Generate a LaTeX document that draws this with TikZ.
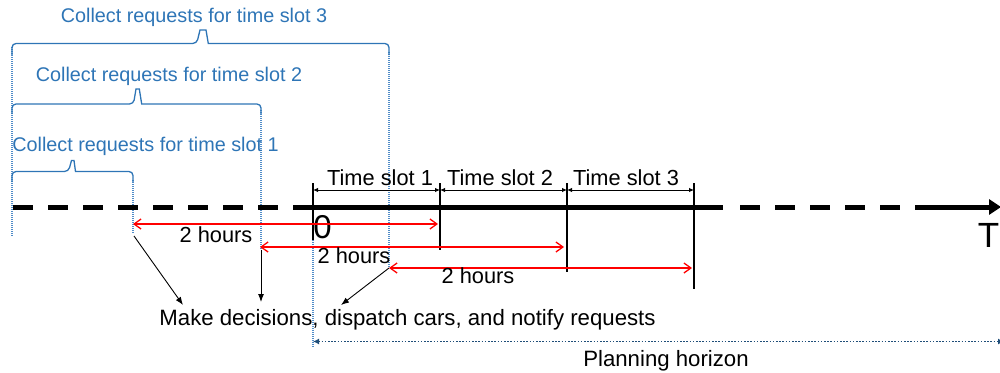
\documentclass[tikz,border=0pt]{standalone}
\usepackage{fontspec}
\setmainfont{Liberation Sans}
\usetikzlibrary{arrows.meta}
\definecolor{cblue}{RGB}{46,117,182}
\definecolor{lblue}{RGB}{80,140,200}
\definecolor{dblue}{RGB}{31,78,121}
\begin{document}
\begin{tikzpicture}[x=1pt,y=-1pt,
  blk/.style={font=\fontsize{21.8}{24}\selectfont, inner sep=0pt},
  bluetxt/.style={font=\fontsize{19.8}{24}\selectfont, text=cblue, inner sep=0pt},
  solidaxis/.style={line width=5pt},
  dashaxis/.style={line width=5pt, dash pattern=on 20pt off 15pt},
  tickline/.style={line width=1.8pt},
  dimarrow/.style={line width=0.9pt, {Latex[length=5pt,width=4.5pt]}-{Latex[length=5pt,width=4.5pt]}},
  redarrow/.style={red, line width=1.3pt, {Straight Barb[length=7pt,width=10pt]}-{Straight Barb[length=7pt,width=10pt]}},
  bracestyle/.style={cblue, line width=1.3pt},
  vdot/.style={lblue, line width=1.2pt, dash pattern=on 1pt off 1pt},
  ptr/.style={line width=0.9pt, -{Latex[length=8pt,width=6pt]}},
  horizon/.style={dblue, line width=1.4pt, dash pattern=on 1.6pt off 1.6pt, {Latex[length=6pt,width=6pt]}-{Latex[length=6pt,width=6pt]}}
]
\useasboundingbox (0,0) rectangle (1000,372);

% ---------- coordinates ----------
\coordinate (a0) at (13,207);
\coordinate (a1) at (300,207);
\coordinate (s0) at (293,207);
\coordinate (s1) at (723,207);
\coordinate (d0) at (740,207);
\coordinate (d1) at (935,207);
\coordinate (e0) at (930,207);
\coordinate (e1) at (1001,207);

\coordinate (t0a) at (313,183); \coordinate (t0b) at (313,240);
\coordinate (t1a) at (440,183); \coordinate (t1b) at (440,250);
\coordinate (t2a) at (567,183); \coordinate (t2b) at (567,272);
\coordinate (t3a) at (694,183); \coordinate (t3b) at (694,289);

\coordinate (m0) at (313,190); \coordinate (m1) at (440,190);
\coordinate (m2) at (567,190); \coordinate (m3) at (694,190);

\coordinate (r1a) at (133,224); \coordinate (r1b) at (438,224);
\coordinate (r2a) at (260,247); \coordinate (r2b) at (564,247);
\coordinate (r3a) at (389,268); \coordinate (r3b) at (692,268);

% ---------- blue dotted verticals ----------
\draw[vdot] (12,47) -- (12,236);
\draw[vdot] (133,180) -- (133,233);
\draw[vdot] (261,110) -- (261,249);
\draw[vdot] (389,52) -- (389,267);
\draw[vdot] (313,240) -- (313,347);

% ---------- braces ----------
\draw[bracestyle] (12,182) [rounded corners=4pt] -- (12,171.5) -- (68.5,171.5) [sharp corners] -- (71.5,160.5) -- (74,160.5) -- (75.5,171.5) [rounded corners=4pt] -- (133,171.5) -- (133,182);
\draw[bracestyle] (12,114) [rounded corners=4pt] -- (12,104) -- (133.5,104) [sharp corners] -- (136,89) -- (139.3,89) -- (141.7,104) [rounded corners=4pt] -- (261,104) -- (261,114);
\draw[bracestyle] (12,55) [rounded corners=4pt] -- (12,43.5) -- (196.7,43.5) [sharp corners] -- (200,30) -- (206,30) -- (208.3,43.5) [rounded corners=4pt] -- (389,43.5) -- (389,55);

\node[bluetxt, anchor=base] (c3) at (194,22.6) {Collect requests for time slot 3};
\node[bluetxt, anchor=base] (c2) at (169,81.2) {Collect requests for time slot 2};
\node[bluetxt, anchor=base] (c1) at (145.5,151.6) {Collect requests for time slot 1};

% ---------- axis ----------
\draw[dashaxis] (a0) -- (a1);
\draw[solidaxis] (s0) -- (s1);
\draw[dashaxis] (d0) -- (d1);
\draw[solidaxis, -{Triangle[length=12pt,width=15pt]}] (e0) -- (e1);

% ---------- ticks ----------
\draw[tickline] (t0a) -- (t0b);
\draw[tickline] (t1a) -- (t1b);
\draw[tickline] (t2a) -- (t2b);
\draw[tickline] (t3a) -- (t3b);

\draw[dimarrow] (m0) -- (m1);
\draw[dimarrow] (m1) -- (m2);
\draw[dimarrow] (m2) -- (m3);

\node[blk, anchor=base] (ts1) at (380,185) {Time slot 1};
\node[blk, anchor=base] (ts2) at (500,185) {Time slot 2};
\node[blk, anchor=base] (ts3) at (626,185) {Time slot 3};

\node[inner sep=0pt, anchor=base, font=\fontsize{33}{36}\selectfont] (zero) at (322.5,238) {0};
\node[inner sep=0pt, anchor=base, font=\fontsize{35}{40}\selectfont] (tee) at (988.5,247) {T};

% ---------- red arrows ----------
\draw[redarrow] (r1a) -- (r1b);
\draw[redarrow] (r2a) -- (r2b);
\draw[redarrow] (r3a) -- (r3b);
\node[blk, anchor=base] (h1) at (216,242) {2 hours};
\node[blk, anchor=base] (h2) at (354,263) {2 hours};
\node[blk, anchor=base] (h3) at (478,283) {2 hours};

% ---------- decisions ----------
\node[blk, font=\fontsize{22.2}{24}\selectfont, anchor=base] (dec) at (407.5,325.5) {Make decisions, dispatch cars, and notify requests};
\coordinate (p1s) at (134,236); \coordinate (p1e) at (183,305);
\coordinate (p2s) at (261,250); \coordinate (p2e) at (261,302);
\coordinate (p3s) at (389,268); \coordinate (p3e) at (341,305);
\draw[ptr] (p1s) -- (p1e);
\draw[ptr] (p2s) -- (p2e);
\draw[ptr] (p3s) -- (p3e);

% ---------- planning horizon ----------
\coordinate (ph0) at (313,341.5);
\coordinate (ph1) at (1004,341.5);
\draw[horizon] (ph0) -- (ph1);
\node[blk, font=\fontsize{22.2}{24}\selectfont, anchor=base] (phl) at (666,366) {Planning horizon};
\end{tikzpicture}
\end{document}
